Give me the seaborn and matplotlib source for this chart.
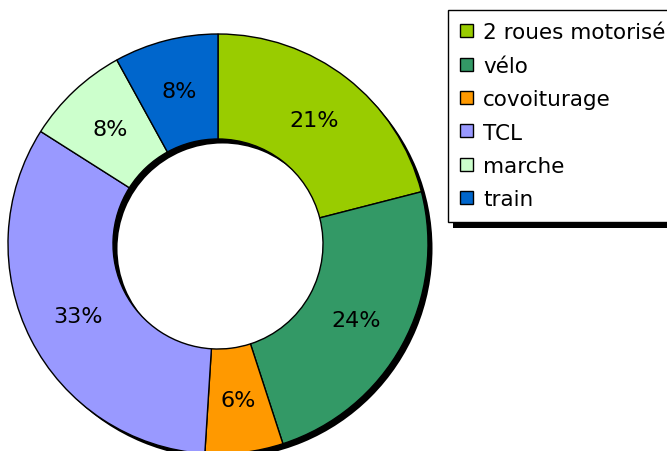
import matplotlib.pyplot as plt
import matplotlib.patches as mpatches
import seaborn as sns

# parts modales (%)
modes = ["2 roues motorisé", "vélo", "covoiturage", "TCL", "marche", "train"]
parts = [21, 24, 6, 33, 8, 8]
couleurs = ["#99CC00", "#339966", "#FF9900", "#9999FF", "#CCFFCC", "#0066CC"]

sns.set_theme(style="white")
plt.rcParams["font.family"] = ["DejaVu Sans"]

fig = plt.figure(figsize=(6.67, 4.52), dpi=100)
fig.patch.set_facecolor("white")

# axe carré : centre (218, 245) px, rayon 210 px
W, H = 667, 452
cx, cy, r = 218, 245, 210
ax = fig.add_axes([(cx - r) / W, (H - cy - r) / H, 2 * r / W, 2 * r / H])

# ombre portée noire
d = 4.5 / r
ax.pie([1], radius=1, center=(d, -d), colors=["black"], startangle=90,
       wedgeprops=dict(width=0.5, linewidth=0), frame=True)

wedges, _, autotexts = ax.pie(
    parts, colors=couleurs, startangle=90, counterclock=False, radius=1,
    autopct="%1.0f%%", pctdistance=0.75,
    wedgeprops=dict(width=0.5, edgecolor="black", linewidth=1.0),
    textprops=dict(fontsize=16, color="black"), frame=True)
ax.set_xlim(-1, 1)
ax.set_ylim(-1, 1)
ax.set_aspect("equal")
ax.axis("off")

leg = fig.legend(wedges, modes, loc="upper left",
                 bbox_to_anchor=(448 / W, 1 - 11 / H), borderaxespad=0,
                 fontsize=15.5, frameon=True, fancybox=False,
                 handlelength=0.56, handleheight=0.56, handletextpad=0.5,
                 borderpad=0.58, labelspacing=0.62, labelcolor="black")
leg.get_frame().set_edgecolor("black")
leg.get_frame().set_linewidth(1.0)
leg.get_frame().set_alpha(1)

# ombre de la légende
fig.canvas.draw()
bb = leg.get_window_extent()
shadow = mpatches.Rectangle((bb.x0 + 5, bb.y0 - 6), bb.width, bb.height,
                            transform=None, facecolor="black", edgecolor="none",
                            zorder=leg.get_zorder() - 1)
fig.patches.append(shadow)

plt.savefig("out.png", dpi=100)
plt.close()
